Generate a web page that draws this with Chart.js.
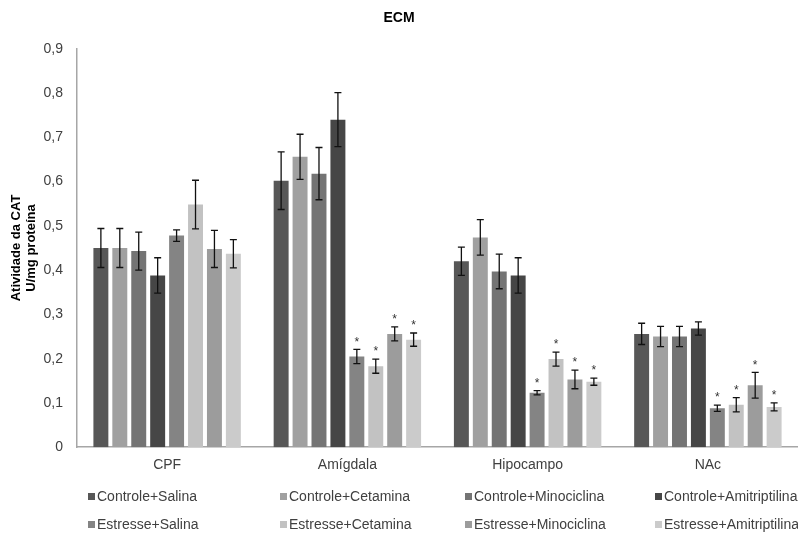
<!DOCTYPE html>
<html>
<head>
<meta charset="utf-8">
<script src="https://cdn.jsdelivr.net/npm/chart.js@4"></script>
<style>
  html, body { margin: 0; padding: 0; background: #fff; }
  #wrap { position: relative; width: 798px; height: 534px; }
  #legend { position: absolute; left: 0; top: 488px; width: 798px; height: 46px;
    font-family: "Liberation Sans Narrow", "Liberation Sans", Arial, sans-serif;
    font-size: 14px; color: #404040; }
  .item { position: absolute; white-space: nowrap; line-height: 16px; }
  .item i { display: inline-block; width: 7px; height: 7px; margin-right: 2px; vertical-align: 1px; }
</style>
</head>
<body>
<div id="wrap">
  <canvas id="chart" width="798" height="534"></canvas>
  <div id="legend"></div>
</div>
<script>
// Data
const regions = ['CPF', 'Amígdala', 'Hipocampo', 'NAc'];
const groups = [
  'Controle+Salina', 'Controle+Cetamina', 'Controle+Minociclina', 'Controle+Amitriptilina',
  'Estresse+Salina', 'Estresse+Cetamina', 'Estresse+Minociclina', 'Estresse+Amitriptilina'
];
const colors = ['#575757', '#a0a0a0', '#747474', '#464646', '#848484', '#c2c2c2', '#9c9c9c', '#cbcbcb'];

// mean values per group, one entry per region
const ctrlSalina   = [0.450, 0.602, 0.420, 0.256];
const ctrlCetamina = [0.450, 0.656, 0.474, 0.250];
const ctrlMinoc    = [0.443, 0.618, 0.397, 0.250];
const ctrlAmitrip  = [0.388, 0.740, 0.388, 0.268];
const estrSalina   = [0.478, 0.205, 0.123, 0.088];
const estrCetamina = [0.548, 0.183, 0.199, 0.096];
const estrMinoc    = [0.448, 0.256, 0.153, 0.140];
const estrAmitrip  = [0.437, 0.243, 0.148, 0.091];

// error (+/-) per group
const errCtrlSalina   = [0.044, 0.065, 0.032, 0.024];
const errCtrlCetamina = [0.044, 0.051, 0.040, 0.023];
const errCtrlMinoc    = [0.043, 0.059, 0.039, 0.023];
const errCtrlAmitrip  = [0.040, 0.061, 0.040, 0.015];
const errEstrSalina   = [0.013, 0.016, 0.005, 0.007];
const errEstrCetamina = [0.055, 0.016, 0.016, 0.016];
const errEstrMinoc    = [0.042, 0.016, 0.021, 0.029];
const errEstrAmitrip  = [0.032, 0.015, 0.008, 0.009];

// significance marks (*) per group
const sigCtrl = [false, false, false, false];
const sigEstrSalina   = [false, true, true, true];
const sigEstrCetamina = [false, true, true, true];
const sigEstrMinoc    = [false, true, true, true];
const sigEstrAmitrip  = [false, true, true, true];

const yTickLabels = ['0', '0,1', '0,2', '0,3', '0,4', '0,5', '0,6', '0,7', '0,8', '0,9'];

const values = [ctrlSalina, ctrlCetamina, ctrlMinoc, ctrlAmitrip, estrSalina, estrCetamina, estrMinoc, estrAmitrip];
const errors = [errCtrlSalina, errCtrlCetamina, errCtrlMinoc, errCtrlAmitrip, errEstrSalina, errEstrCetamina, errEstrMinoc, errEstrAmitrip];
const sigs = [sigCtrl, sigCtrl, sigCtrl, sigCtrl, sigEstrSalina, sigEstrCetamina, sigEstrMinoc, sigEstrAmitrip];

const datasets = groups.map((g, i) => ({
  label: g,
  data: values[i],
  err: errors[i],
  sig: sigs[i],
  backgroundColor: colors[i],
  borderWidth: 0,
  barPercentage: 0.79,
  categoryPercentage: 0.84
}));

// error bars + asterisks
const errorBars = {
  id: 'errorBars',
  afterDatasetsDraw(chart) {
    const ctx = chart.ctx;
    const y = chart.scales.y;
    ctx.save();
    chart.data.datasets.forEach((ds, di) => {
      const meta = chart.getDatasetMeta(di);
      meta.data.forEach((bar, i) => {
        const v = ds.data[i], e = ds.err[i];
        const top = y.getPixelForValue(v + e);
        const bot = y.getPixelForValue(v - e);
        ctx.strokeStyle = '#111';
        ctx.lineWidth = 1.3;
        ctx.beginPath();
        ctx.moveTo(bar.x, top); ctx.lineTo(bar.x, bot);
        ctx.moveTo(bar.x - 3.5, top); ctx.lineTo(bar.x + 3.5, top);
        ctx.moveTo(bar.x - 3.5, bot); ctx.lineTo(bar.x + 3.5, bot);
        ctx.stroke();
        if (ds.sig[i]) {
          ctx.fillStyle = '#333';
          ctx.font = '12px "Liberation Sans", Arial, sans-serif';
          ctx.textAlign = 'center';
          ctx.textBaseline = 'middle';
          ctx.fillText('*', bar.x, top - 7);
        }
      });
    });
    ctx.restore();
  }
};

new Chart(document.getElementById('chart'), {
  type: 'bar',
  data: { labels: regions, datasets },
  options: {
    responsive: false,
    animation: false,
    layout: { padding: { left: 0, right: 0, top: 0, bottom: 50 } },
    plugins: {
      legend: { display: false },
      tooltip: { enabled: false },
      title: {
        display: true,
        text: 'ECM',
        color: '#000',
        font: { family: '"Liberation Sans", Arial, sans-serif', size: 14, weight: 'bold' },
        padding: { top: 10, bottom: 22 }
      }
    },
    scales: {
      x: {
        grid: { display: false, drawTicks: false },
        border: { color: '#a6a6a6', width: 1.5 },
        ticks: {
          color: '#404040', padding: 10,
          font: { family: '"Liberation Sans Narrow", "Liberation Sans", Arial, sans-serif', size: 14 }
        }
      },
      y: {
        min: 0, max: 0.9,
        afterFit: (scale) => { scale.width = 77; },
        grid: { display: false, drawTicks: false },
        border: { color: '#a6a6a6', width: 1.5 },
        ticks: {
          stepSize: 0.1, padding: 14, color: '#404040',
          font: { family: '"Liberation Sans Narrow", "Liberation Sans", Arial, sans-serif', size: 14 },
          callback: (v, i) => yTickLabels[i]
        },
        title: {
          display: true,
          text: ['Atividade da CAT', 'U/mg proteína'],
          color: '#000',
          font: { family: '"Liberation Sans", Arial, sans-serif', size: 13, weight: 'bold', lineHeight: 1.15 },
          padding: { top: 9, bottom: 0 }
        }
      }
    }
  },
  plugins: [errorBars]
});

// HTML legend, 2 rows x 4 columns
const legendX = [88, 280, 465, 655];
const legendY = [0, 28];
const legend = document.getElementById('legend');
groups.forEach((g, i) => {
  const el = document.createElement('div');
  el.className = 'item';
  el.style.left = legendX[i % 4] + 'px';
  el.style.top = legendY[Math.floor(i / 4)] + 'px';
  el.innerHTML = `<i style="background:${colors[i]}"></i>${g}`;
  legend.appendChild(el);
});
</script>
</body>
</html>
